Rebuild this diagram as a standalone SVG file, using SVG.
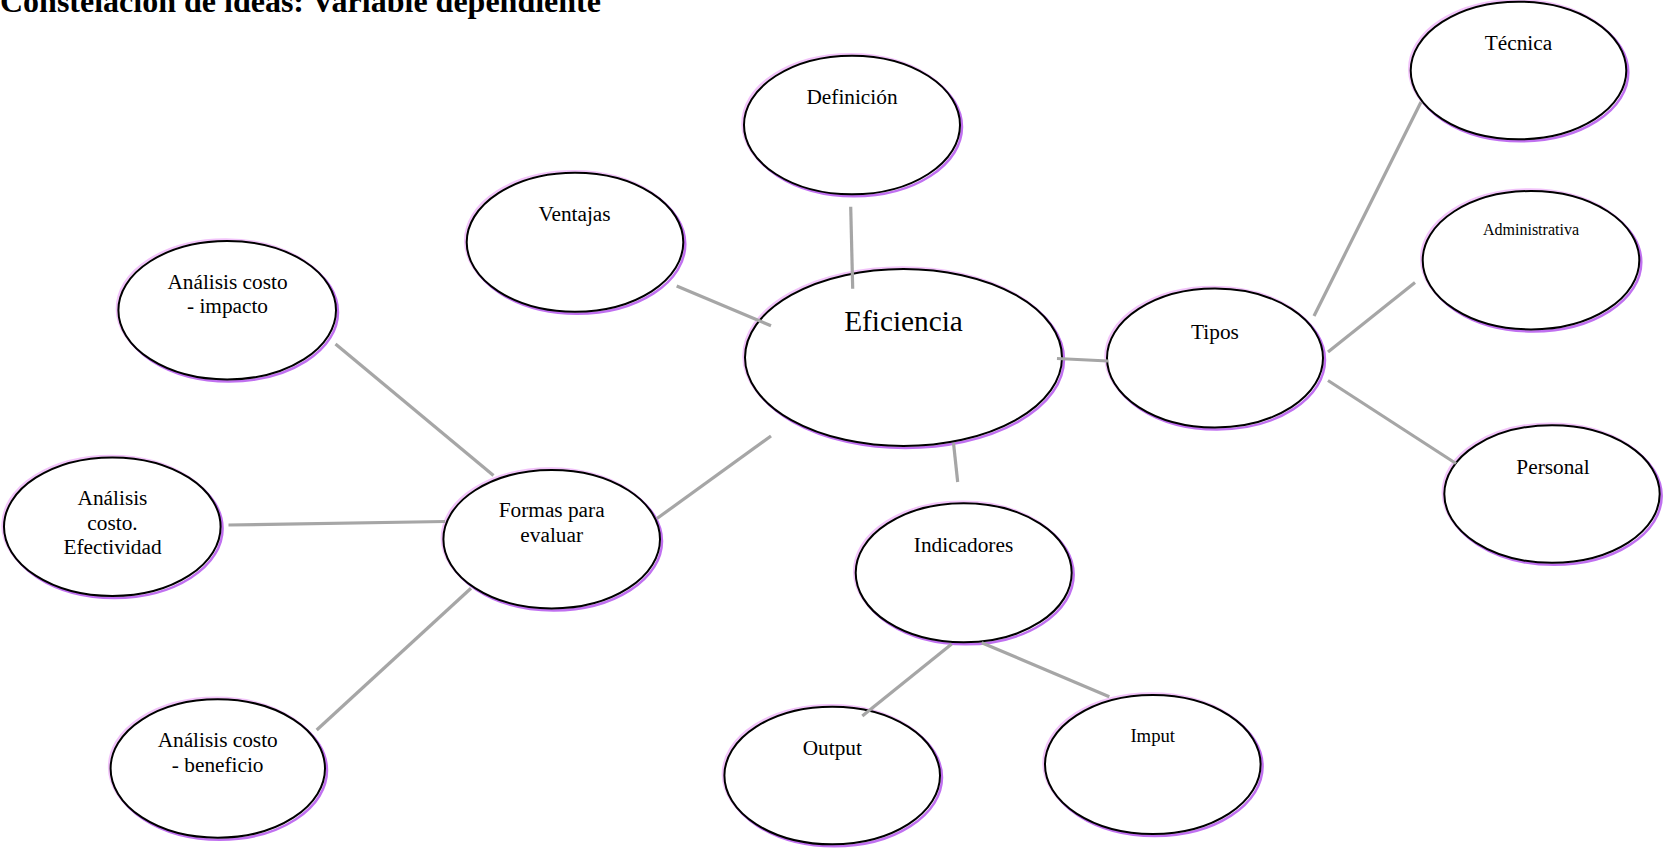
<svg xmlns="http://www.w3.org/2000/svg" width="1663" height="848" viewBox="0 0 1663 848">
<style>
text{font-family:"Liberation Serif","Times New Roman",serif;fill:#000;text-anchor:middle}
.t{font-size:21.3px}
.sa{fill:none;stroke:#f2c4fa;stroke-width:2.5}
.sb{fill:none;stroke:#c070f0;stroke-width:2.5}
.el{fill:#fff;stroke:#000;stroke-width:2}
.cn line{stroke:#a6a6a6;stroke-width:3.2;stroke-linecap:butt}
</style>
<rect width="1663" height="848" fill="#fff"/>
<text x="0" y="12" style="font-size:32px;font-weight:bold;text-anchor:start">Constelación de ideas: Variable dependiente</text>

<g id="eficiencia">
<ellipse class="sa" cx="902" cy="356" rx="158.5" ry="88.5"/>
<ellipse class="sb" cx="905.5" cy="359.5" rx="158.5" ry="88.5"/>
<ellipse class="el" cx="903.5" cy="357.5" rx="158.5" ry="88.5"/>
<text x="903.5" y="331" style="font-size:29.3px">Eficiencia</text>
</g>

<g id="definicion">
<ellipse class="sa" cx="850.5" cy="123.5" rx="108" ry="69.3"/>
<ellipse class="sb" cx="854" cy="127" rx="108" ry="69.3"/>
<ellipse class="el" cx="852" cy="125" rx="108" ry="69.3"/>
<text class="t" x="852" y="104">Definición</text>
</g>

<g id="ventajas">
<ellipse class="sa" cx="573.5" cy="240.7" rx="108.3" ry="69.5"/>
<ellipse class="sb" cx="577" cy="244.2" rx="108.3" ry="69.5"/>
<ellipse class="el" cx="575" cy="242.2" rx="108.3" ry="69.5"/>
<text class="t" x="574.5" y="221">Ventajas</text>
</g>

<g id="analisis-impacto">
<ellipse class="sa" cx="225.7" cy="308.7" rx="108.8" ry="69.2"/>
<ellipse class="sb" cx="229.2" cy="312.2" rx="108.8" ry="69.2"/>
<ellipse class="el" cx="227.2" cy="310.2" rx="108.8" ry="69.2"/>
<text class="t" x="227.5" y="289.3">Análisis costo</text>
<text class="t" x="227.5" y="313.3">- impacto</text>
</g>

<g id="analisis-efectividad">
<ellipse class="sa" cx="110.8" cy="525.2" rx="108.3" ry="69.3"/>
<ellipse class="sb" cx="114.3" cy="528.7" rx="108.3" ry="69.3"/>
<ellipse class="el" cx="112.3" cy="526.7" rx="108.3" ry="69.3"/>
<text class="t" x="112.5" y="505">Análisis</text>
<text class="t" x="112.5" y="530">costo.</text>
<text class="t" x="112.5" y="554">Efectividad</text>
</g>

<g id="formas">
<ellipse class="sa" cx="550.2" cy="537.7" rx="108.3" ry="69.2"/>
<ellipse class="sb" cx="553.7" cy="541.2" rx="108.3" ry="69.2"/>
<ellipse class="el" cx="551.7" cy="539.2" rx="108.3" ry="69.2"/>
<text class="t" x="551.7" y="517.3">Formas para</text>
<text class="t" x="551.7" y="541.7">evaluar</text>
</g>

<g id="analisis-beneficio">
<ellipse class="sa" cx="216.3" cy="767" rx="107.2" ry="69.2"/>
<ellipse class="sb" cx="219.8" cy="770.5" rx="107.2" ry="69.2"/>
<ellipse class="el" cx="217.8" cy="768.5" rx="107.2" ry="69.2"/>
<text class="t" x="217.7" y="746.7">Análisis costo</text>
<text class="t" x="217.7" y="772.3">- beneficio</text>
</g>

<g id="indicadores">
<ellipse class="sa" cx="962.2" cy="571.3" rx="108" ry="69.5"/>
<ellipse class="sb" cx="965.7" cy="574.8" rx="108" ry="69.5"/>
<ellipse class="el" cx="963.7" cy="572.8" rx="108" ry="69.5"/>
<text class="t" x="963.5" y="551.7">Indicadores</text>
</g>

<g id="output">
<ellipse class="sa" cx="830.7" cy="774" rx="107.8" ry="68.8"/>
<ellipse class="sb" cx="834.2" cy="777.5" rx="107.8" ry="68.8"/>
<ellipse class="el" cx="832.2" cy="775.5" rx="107.8" ry="68.8"/>
<text class="t" x="832.3" y="755">Output</text>
</g>

<g id="imput">
<ellipse class="sa" cx="1151.3" cy="763" rx="107.8" ry="69.5"/>
<ellipse class="sb" cx="1154.8" cy="766.5" rx="107.8" ry="69.5"/>
<ellipse class="el" cx="1152.8" cy="764.5" rx="107.8" ry="69.5"/>
<text x="1152.7" y="742" style="font-size:18.7px">Imput</text>
</g>

<g id="tipos">
<ellipse class="sa" cx="1213.5" cy="356.5" rx="108" ry="69.5"/>
<ellipse class="sb" cx="1217" cy="360" rx="108" ry="69.5"/>
<ellipse class="el" cx="1215" cy="358" rx="108" ry="69.5"/>
<text class="t" x="1215" y="338.5">Tipos</text>
</g>

<g id="tecnica">
<ellipse class="sa" cx="1517" cy="69" rx="107.8" ry="68.8"/>
<ellipse class="sb" cx="1520.5" cy="72.5" rx="107.8" ry="68.8"/>
<ellipse class="el" cx="1518.5" cy="70.5" rx="107.8" ry="68.8"/>
<text class="t" x="1518.5" y="50">Técnica</text>
</g>

<g id="administrativa">
<ellipse class="sa" cx="1529.5" cy="258.7" rx="108.3" ry="69.2"/>
<ellipse class="sb" cx="1533" cy="262.2" rx="108.3" ry="69.2"/>
<ellipse class="el" cx="1531" cy="260.2" rx="108.3" ry="69.2"/>
<text x="1531" y="235" style="font-size:16px">Administrativa</text>
</g>

<g id="personal">
<ellipse class="sa" cx="1550.5" cy="492.5" rx="107.7" ry="68.8"/>
<ellipse class="sb" cx="1554" cy="496" rx="107.7" ry="68.8"/>
<ellipse class="el" cx="1552" cy="494" rx="107.7" ry="68.8"/>
<text class="t" x="1553" y="474">Personal</text>
</g>

<g id="connectors" class="cn">
<line x1="850.7" y1="206.7" x2="852.7" y2="288.7"/>
<line x1="676.7" y1="286" x2="771" y2="325.7"/>
<line x1="771" y1="436" x2="657" y2="518.5"/>
<line x1="1057" y1="358.5" x2="1108" y2="361"/>
<line x1="953.5" y1="443" x2="957.7" y2="482"/>
<line x1="1314" y1="316" x2="1421" y2="102"/>
<line x1="1328" y1="352" x2="1415" y2="282.5"/>
<line x1="1328" y1="380.5" x2="1456" y2="463.5"/>
<line x1="335.5" y1="344" x2="493.5" y2="475.5"/>
<line x1="228.5" y1="525" x2="445" y2="521.5"/>
<line x1="316.7" y1="730" x2="471" y2="588.3"/>
<line x1="951.7" y1="644" x2="862.3" y2="716"/>
<line x1="981.7" y1="642.7" x2="1109.3" y2="696.7"/>
</g>
</svg>
